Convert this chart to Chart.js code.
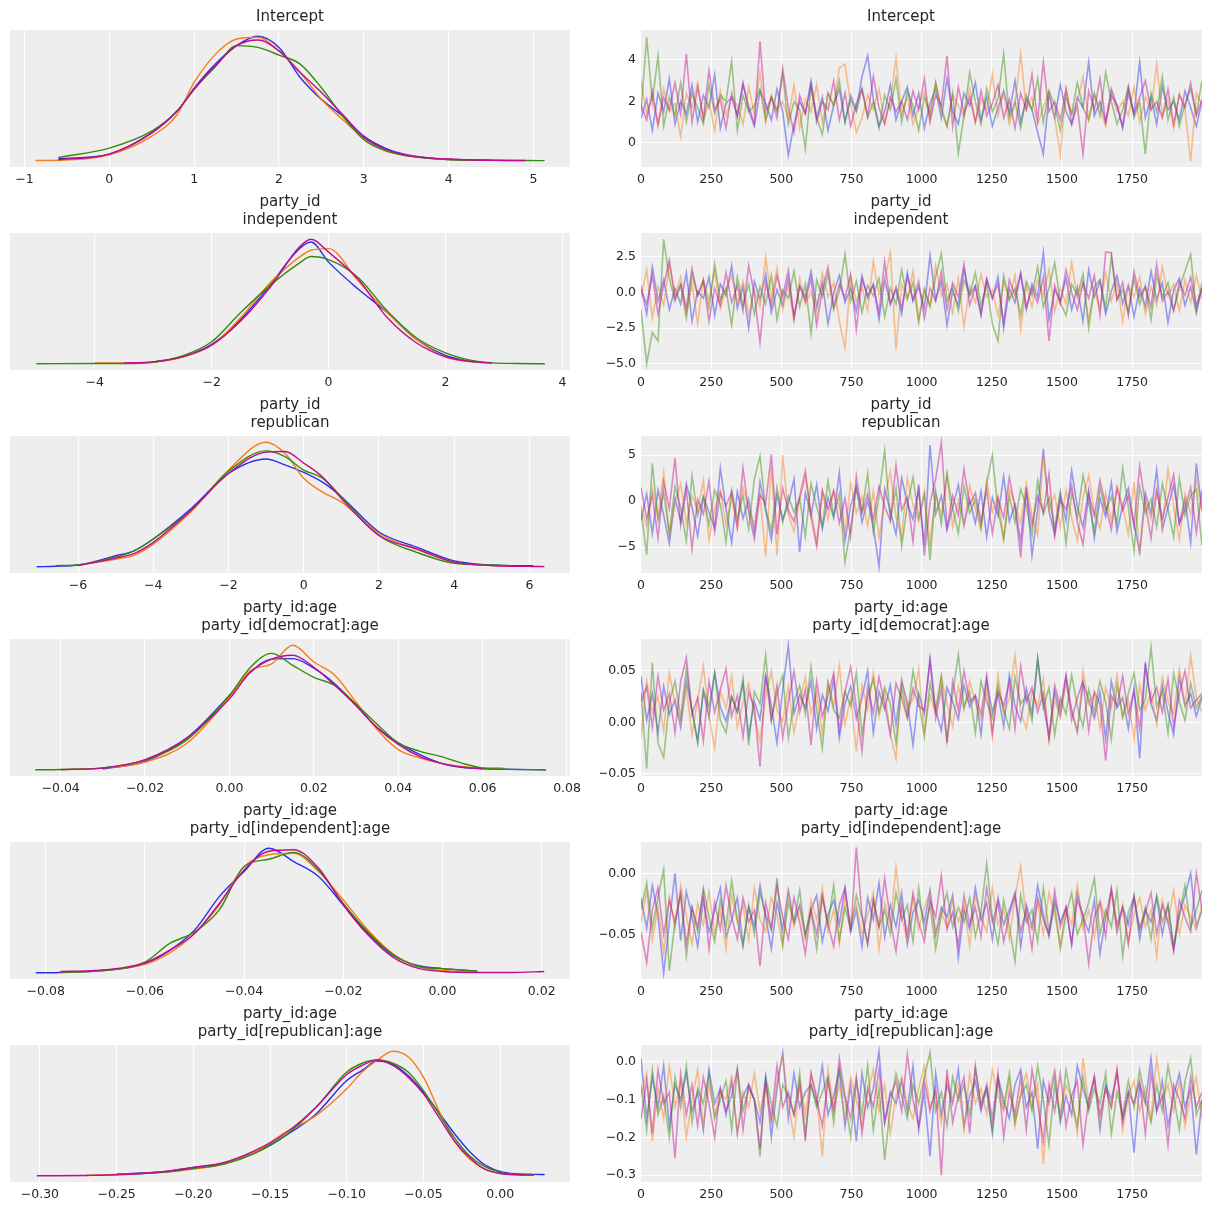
<!DOCTYPE html>
<html lang="en">
<head>
<meta charset="UTF-8">
<script src="https://cdn.jsdelivr.net/npm/chart.js"></script>
<title>Trace plot</title>
<style>
  body { margin: 0; background: #fff; }
  #fig { position: relative; width: 1211px; height: 1211px; }
  .panel { position: absolute; }
</style>
</head>
<body>
<div id="fig"></div>
<script>
// chain colours (arviz-darkgrid cycle)
const chainColors = ['#2a2eec', '#fa7c17', '#328c06', '#c10c90']

const titles = [
  ['Intercept'],
  ['party_id', 'independent'],
  ['party_id', 'republican'],
  ['party_id:age', 'party_id[democrat]:age'],
  ['party_id:age', 'party_id[independent]:age'],
  ['party_id:age', 'party_id[republican]:age']
]

// ---- KDE (left column): x grid per panel, density per chain [blue, orange, green, magenta]
const kdeX1 = [-0.87, -0.6, 0, 0.5, 0.8, 1.0, 1.25, 1.5, 1.75, 2.0, 2.25, 2.5, 2.75, 3.0, 3.25, 3.5, 4.0, 4.5, 4.9, 5.13]
const kdeY1 = [
  [null, .008, .027, .112, .200, .292, .389, .463, .501, .456, .335, .247, .180, .099, .051, .024, .005, .002, null, null],
  [.001, .002, .024, .099, .186, .315, .428, .490, .497, .442, .355, .247, .166, .092, .045, .022, .005, .002, null, null],
  [null, .013, .051, .119, .200, .288, .378, .463, .456, .425, .389, .294, .180, .085, .041, .020, .005, .002, .001, .0005],
  [null, .004, .027, .112, .200, .288, .382, .463, .486, .442, .355, .275, .186, .095, .047, .022, .007, .002, .001, null]
]
const kdeX2 = [-5.0, -4.0, -3.5, -3.0, -2.5, -2.0, -1.5, -1.0, -0.5, -0.3, 0, 0.5, 1.0, 1.5, 2.0, 2.5, 2.8, 3.2, 3.7]
const kdeY2 = [
  [null, null, null, .006, .022, .062, .142, .251, .367, .388, .324, .239, .164, .078, .027, .006, .003, null, null],
  [null, .003, .003, .005, .021, .059, .148, .258, .340, .362, .367, .265, .164, .078, .021, .006, .003, null, null],
  [.000, .001, .001, .005, .025, .070, .164, .250, .321, .342, .332, .276, .169, .083, .035, .009, .003, .001, .000],
  [null, null, .003, .006, .022, .059, .137, .244, .372, .397, .356, .271, .148, .067, .022, .006, .003, null, null]
]
const kdeX3 = [-7.1, -6.6, -6, -5, -4.5, -4, -3, -2, -1, -0.5, 0, 0.5, 1, 2, 3, 4, 5, 5.5, 6.1, 6.4]
const kdeY3 = [
  [0, .001, .003, .019, .028, .048, .100, .161, .186, .176, .163, .146, .121, .060, .034, .010, .003, .002, .002, null],
  [null, null, .003, .013, .020, .039, .095, .167, .215, .196, .153, .129, .112, .057, .030, .008, .002, .001, null, null],
  [null, .002, .003, .017, .028, .048, .097, .165, .200, .190, .167, .153, .121, .054, .025, .006, .003, .002, null, null],
  [null, null, .002, .015, .023, .042, .097, .161, .198, .199, .179, .155, .118, .054, .031, .008, .002, .001, .0005, .0003]
]
const kdeX4 = [-0.046, -0.04, -0.03, -0.02, -0.01, 0, 0.005, 0.01, 0.015, 0.02, 0.025, 0.03, 0.035, 0.04, 0.045, 0.05, 0.055, 0.06, 0.065, 0.075]
const kdeY4 = [
  [null, null, .14, 1.76, 6.68, 15.5, 20.4, 23.1, 23.2, 21.2, 17.9, 13.4, 8.8, 5.6, 3.2, 1.4, .5, .2, .1, 0],
  [null, .07, .35, 1.6, 5.6, 15.1, 20.7, 22.1, 26.0, 22.5, 19.7, 14.1, 8.4, 4.2, 2.5, 1.4, .7, .4, .35, null],
  [0, .07, .4, 2.0, 6.3, 15.5, 21.4, 24.3, 21.8, 19.3, 17.6, 13.7, 9.5, 5.6, 3.9, 2.8, 1.4, .35, .14, 0],
  [null, .03, .35, 2.1, 6.7, 14.8, 20.4, 23.1, 23.9, 21.4, 17.6, 13.4, 8.8, 5.3, 2.8, 1.4, .6, .2, null, null]
]
const kdeX5 = [-0.082, -0.077, -0.07, -0.06, -0.055, -0.05, -0.045, -0.04, -0.035, -0.03, -0.025, -0.02, -0.015, -0.01, -0.005, 0, 0.007, 0.014, 0.0205]
const kdeY5 = [
  [0, .09, .44, 2.4, 5.9, 11.2, 20.0, 26.6, 32.7, 29.2, 25.3, 17.8, 10.3, 4.6, 1.9, 1.1, .44, null, null],
  [null, .18, .44, 2.2, 5.2, 10.3, 17.8, 27.9, 31.0, 31.4, 26.6, 19.1, 11.2, 5.0, 1.7, .6, .26, null, null],
  [null, .18, .44, 2.8, 7.7, 10.7, 16.5, 27.9, 29.8, 31.6, 27.0, 18.2, 10.7, 4.8, 1.7, 1.1, .44, null, null],
  [null, .35, .6, 2.6, 5.9, 10.3, 18.2, 27.0, 31.9, 32.3, 27.5, 17.8, 9.9, 4.1, 1.2, .35, .09, .09, .35]
]
const kdeX6 = [-0.302, -0.27, -0.25, -0.22, -0.2, -0.18, -0.16, -0.14, -0.12, -0.1, -0.09, -0.08, -0.07, -0.06, -0.05, -0.04, -0.03, -0.02, -0.01, 0, 0.01, 0.022, 0.029]
const kdeY6 = [
  [null, null, .15, .37, .77, 1.13, 2.14, 3.67, 5.66, 8.72, 9.64, 10.5, 10.2, 9.18, 7.65, 5.81, 3.89, 2.23, 1.01, .40, .18, .13, .12],
  [null, .06, .12, .31, .61, 1.07, 2.14, 3.98, 5.51, 7.96, 9.49, 10.6, 11.4, 10.9, 9.03, 5.97, 3.21, 1.53, .61, .24, .12, .09, null],
  [null, null, .12, .31, .67, 1.07, 2.05, 3.67, 6.27, 9.49, 10.3, 10.6, 10.3, 9.49, 7.80, 5.66, 3.52, 1.84, .83, .31, .15, .09, null],
  [0, .03, .09, .37, .77, 1.22, 2.30, 3.89, 6.27, 9.27, 10.1, 10.6, 10.1, 9.03, 7.50, 5.36, 3.21, 1.68, .61, .21, .09, .06, null]
]

// ---- traces (right column): draws read every ~20 iterations over 0..1999, per chain
const trace1 = [
  [1.2, 2.1, 0.6, 2.4, 1.5, 3.1, 0.9, 2.0, 1.4, 2.8, 1.0, 2.3, 1.7, 3.3, 0.7, 1.9, 2.2, 1.3, 2.9, 1.6,
   0.8, 2.5, 1.9, 1.1, 2.6, 1.5, -0.6, 0.9, 2.0, 1.4, 3.0, 1.2, 2.2, 0.6, 1.8, 2.6, 1.0, 2.3, 1.6, 3.2,
   4.2, 2.1, 0.8, 1.5, 2.8, 1.1, 2.0, 2.7, 1.3, 2.4, 0.7, 1.9, 2.6, 1.2, 3.1, 1.5, 0.9, 2.4, 1.8, 2.9,
   1.1, 2.2, 0.8, 1.7, 2.5, 1.4, 3.0, 1.0, 2.1, 1.6, 0.5, -0.55, 2.3, 1.2, 2.8, 1.5, 0.9, 2.2, 1.7, 3.9,
   1.3, 2.0, 1.0, 2.6, 1.8, 0.7, 2.4, 1.4, 3.9, 1.2, 2.2, 0.9, 2.7, 1.6, 2.0, 1.1, 2.5, 1.7, 0.8, 2.0],
  [3.0, 1.4, 2.2, 0.8, 2.6, 1.5, 1.9, 0.3, 2.4, 1.7, 2.9, 1.1, 2.0, 0.6, 2.5, 1.3, 2.2, 1.8, 0.9, 2.7,
   1.4, 3.4, 1.0, 2.3, 1.6, 2.0, 1.2, 2.8, 0.7, 2.1, 1.5, 2.8, 1.0, 2.4, 1.8, 3.6, 3.8, 1.9, 0.5, 1.2,
   2.3, 1.6, 2.6, 1.0, 2.0, 4.1, 1.4, 2.2, 0.9, 1.7, 2.5, 1.1, 2.9, 1.5, 0.8, 2.3, 1.8, 1.2, 2.6, 1.0,
   2.1, 1.6, 3.3, 1.3, 2.4, 0.9, 1.9, 4.3, 1.6, 2.2, 0.9, 1.7, 2.5, 1.2, -0.6, 2.6, 1.4, 2.0, 3.2, 1.1,
   2.3, 1.7, 0.8, 2.5, 1.5, 2.0, 1.3, 2.7, 1.0, 2.2, 1.6, 3.8, 1.3, 2.1, 0.7, 2.4, 1.6, -0.9, 2.4, 1.8],
  [1.5, 5.1, 2.0, 4.2, 0.8, 2.2, 1.3, 2.9, 1.0, 2.4, 1.7, 0.9, 2.8, 1.4, 2.3, 2.0, 3.95, 0.6, 2.3, 1.5,
   1.8, 2.6, 1.1, 2.2, 1.5, 3.3, 0.9, 2.0, 1.6, -0.3, 2.7, 1.2, 0.4, 2.4, 1.8, 3.0, 1.0, 2.1, 1.5, 2.6,
   1.2, 2.0, 0.7, 2.3, 1.6, 3.1, 1.0, 2.5, 1.8, 0.6, 2.2, 1.4, 2.9, 1.7, 0.8, 2.4, -0.5, 1.3, 3.4, 2.0,
   0.9, 2.6, 1.5, 2.1, 4.3, 1.2, 2.0, 0.7, 2.3, 1.6, 3.1, 1.0, 2.5, 1.8, 0.6, 2.2, 1.4, 2.9, 1.7, 1.1,
   2.4, 1.3, 3.4, 2.0, 0.9, 1.6, 2.7, 1.2, 2.0, -0.55, 2.4, 1.5, 3.2, 1.1, 2.2, 0.8, 1.9, 2.6, 1.4, 3.0],
  [1.8, 1.1, 2.5, 0.9, 2.2, 1.6, 2.9, 1.4, 4.3, 1.0, 2.7, 1.2, 3.5, 1.6, 2.1, 0.7, 2.4, 1.3, 2.8, 1.8,
   0.9, 4.9, 1.5, 2.2, 1.2, 3.6, 1.7, 0.5, 2.3, 1.4, 2.8, 1.0, 2.0, 1.6, 3.0, 1.1, 2.4, 0.8, 1.9, 2.6,
   1.3, 3.2, 1.7, 0.9, 2.2, 1.5, 2.0, 1.1, 2.5, 1.6, 3.1, 1.0, 2.3, 1.8, 4.2, 0.8, 2.7, 1.4, 2.2, 1.0,
   2.5, 1.3, 1.9, 2.8, 1.2, 2.1, 0.7, 2.4, 1.6, 3.3, 1.1, 3.9, 1.5, 2.0, 1.1, 2.6, 0.9, 1.8, -0.55, 2.5,
   1.6, 3.1, 1.0, 2.3, 1.8, 0.8, 2.7, 1.4, 2.2, 3.0, 1.6, 2.0, 1.2, 2.6, 0.9, 2.3, 1.7, 2.9, 1.3, 2.1]
]
const trace2 = [
  [0.5, -1.5, 1.8, -0.6, 0.9, -1.2, 0.3, -0.8, 1.4, -2.0, 0.1, -0.4, 1.1, -1.6, 0.6, -0.2, 1.9, -1.1, 0.4, -2.5,
   0.8, -0.5, 1.3, -1.4, 0.2, -0.9, 1.0, -1.8, 0.5, -0.3, 1.5, -1.0, 0.7, -2.2, 0.0, 1.2, -0.7, 0.3, -1.3, 1.2,
   -0.4, 0.6, -1.9, 0.9, -0.8, 0.2, -1.5, 1.4, -0.6, 0.4, -1.1, 2.6, -0.5, 0.8, -2.3, 0.1, -0.9, 1.6, -0.2, 0.5,
   -1.6, 0.9, -0.4, 1.1, -2.5, 0.3, -0.7, 1.3, -1.2, 0.6, -0.3, 2.85, -1.9, 0.2, -0.6, 1.0, -1.2, 0.4, -2.0, 1.6,
   -0.3, 0.8, -1.5, 0.1, 1.2, -0.8, 0.5, -1.7, 0.3, -1.0, 1.5, -0.5, 0.7, -2.1, 0.2, 1.0, -0.9, 0.4, -1.4, 0.3],
  [-0.3, 1.6, -1.8, 0.4, -0.9, 2.0, -0.2, 1.1, -1.4, 0.6, -2.2, 0.9, -0.5, 1.5, -1.1, 0.3, 1.2, -0.7, 0.8, -1.6,
   0.2, -1.0, 2.5, -0.4, 1.7, -1.2, 0.5, -2.0, 1.0, -0.8, 0.1, -1.5, 1.4, -0.3, 0.7, -2.0, -3.9, 1.1, -0.6, 0.4,
   -1.3, 2.2, -0.1, 0.9, 2.8, -4.0, 0.6, -0.5, 1.5, -1.8, 0.3, -0.9, 1.9, -0.2, 0.6, -1.4, 1.0, -2.4, 0.4, -0.7,
   1.3, -0.3, 0.2, -1.6, 0.8, -0.5, 1.2, -2.6, 0.5, -1.0, 0.9, -0.2, 1.6, -1.3, 0.3, -0.8, 2.1, -0.4, 0.7, -1.9,
   0.2, -1.1, 1.4, -0.6, 0.8, -2.0, 0.5, -0.3, 1.1, -1.5, 0.4, -0.9, 1.8, -0.2, 0.6, -1.3, 0.9, -0.7, 1.2, -0.4],
  [-1.2, -5.0, -2.8, -3.4, 3.75, 1.0, -0.6, 0.5, -1.8, 1.3, -0.2, 0.8, -1.1, 2.0, -0.5, 0.3, -2.3, 1.1, -0.9, 0.6,
   -1.5, 0.4, -0.8, 1.2, -1.9, 0.2, -0.4, 1.5, -1.0, 0.6, -2.9, 0.9, -0.3, 1.3, -1.2, 0.1, 2.7, -0.6, 0.8, -1.4,
   0.5, -0.2, 1.0, -1.7, 0.3, -0.8, 1.6, -0.4, 0.7, -2.1, 0.2, -1.0, 1.1, 2.75, -0.6, 0.4, -1.3, 0.9, -0.1, 1.4,
   -0.9, 0.6, -2.2, -3.4, 1.2, -0.5, 0.3, -1.6, 0.8, -0.2, 1.8, -1.0, 0.3, 2.1, -0.7, -1.6, 0.6, -0.2, 1.3, -2.5,
   0.4, 0.9, -1.1, 2.5, -0.5, 0.2, -1.4, 1.0, -0.8, 0.5, -1.9, 1.2, -0.3, 0.7, -1.2, 0.3, 1.5, 2.7, -1.3, 0.7],
  [0.2, -0.8, 1.2, -1.5, 0.5, 2.3, -0.4, 0.6, -1.1, 1.7, -0.2, 0.9, -2.0, 0.3, -0.9, 1.4, -0.7, 0.5, -1.3, 1.9,
   -0.1, -3.5, 0.7, -0.9, 1.2, -0.3, 1.6, -1.7, 0.4, -0.6, 1.0, -2.3, 0.2, 1.8, -1.0, 0.6, -0.4, 1.3, -2.6, 0.9,
   -0.2, 0.5, -1.4, 2.2, -0.8, 0.4, -1.1, 1.1, -0.5, 0.8, -1.8, 0.3, -0.6, 1.5, -1.2, 0.7, -0.3, 2.0, -0.9, 0.4,
   -1.5, 1.0, -0.4, 0.6, -2.1, 0.9, -0.2, 1.4, -1.0, 0.3, -0.7, 1.1, -3.4, 0.5, -0.8, 1.6, 0.0, -1.2, 0.7, -0.4,
   1.2, -1.6, 2.85, 2.8, -0.5, 0.7, -1.6, 1.5, -0.3, 0.4, -1.0, 2.0, -0.6, 0.1, -1.3, 0.8, -0.2, 1.1, -0.9, 0.3]
]
const trace3 = [
  [-2.1, 0.8, -3.5, 1.2, -1.5, -4.6, 0.3, -2.2, 1.9, -0.6, -3.8, 0.5, -1.2, -2.9, 3.6, -0.8, -4.5, 1.0, -1.9, 0.2,
   -3.4, 2.1, -1.0, -4.2, 0.7, -2.0, -0.3, 2.4, -5.5, 0.9, -1.5, 1.8, -3.0, 0.4, -1.8, 3.1, -4.3, -0.5, 1.6, -2.3,
   0.1, -2.8, -7.1, 1.3, -1.1, -3.6, 2.5, -0.2, -2.0, 1.3, -4.8, 6.1, -1.4, 0.6, -3.1, -0.7, 1.8, -2.6, 0.2, -2.4,
   1.1, -3.9, 0.4, -1.6, 2.7, -2.2, -0.4, -4.4, 1.5, -5.9, -0.9, 5.7, -1.1, -3.6, 0.8, -2.1, 3.3, -0.6, -2.8, 1.2,
   -4.0, 0.3, -1.7, 2.0, -3.3, -0.5, 1.4, -2.5, -5.5, 0.9, -1.3, 3.4, -3.1, -0.7, 1.8, -2.4, 0.2, -4.5, 4.1, -1.0],
  [-0.5, -2.8, 1.4, -1.6, 3.1, -3.7, -0.2, 1.9, -2.4, 0.6, -1.1, 2.3, -4.2, -0.8, 1.2, -2.6, 0.4, -3.0, 1.5, -0.9,
   -2.5, 0.7, -6.0, 3.8, -5.9, 5.0, -1.4, -3.3, 0.2, 2.6, -1.0, -4.5, 0.9, -2.0, 1.2, -0.6, -3.5, 2.0, -1.3, 0.5,
   -2.7, 1.1, -4.0, 0.3, 3.2, -1.7, -3.9, 2.5, -0.4, -2.2, 1.0, -4.6, 0.8, -1.5, 2.9, -2.8, 0.1, -2.6, 1.7, -0.8,
   -3.2, 2.2, -1.2, 0.6, -4.1, 1.4, -0.3, -2.4, 1.9, -1.6, -3.7, 5.0, -0.9, 0.7, -2.9, 1.2, -1.8, -4.3, 0.4, 2.8,
   -1.1, -3.0, 0.9, -2.2, 1.6, -0.5, -3.6, 2.1, -5.8, 0.3, -1.9, 1.3, -2.7, 3.5, -0.6, -4.2, 0.8, -1.4, 2.4, -1.2],
  [-1.0, -5.8, 4.1, -2.1, 0.9, -3.5, 1.6, -0.7, -4.3, 2.8, -1.5, 0.4, -2.6, 1.2, -0.3, -4.4, 1.2, -1.9, 0.6, -3.0,
   2.4, 4.9, -0.9, -3.2, 1.5, -2.3, 0.5, -1.2, 0.3, -3.8, 1.9, -0.6, -2.7, 2.2, -1.6, 0.8, -6.6, -2.9, 1.4, -1.1,
   3.0, -3.4, 0.5, 5.5, -2.0, 1.4, -4.9, -0.4, 2.6, -1.8, 0.7, -6.4, 1.1, -2.5, 3.0, -0.8, -3.5, 1.6, -1.3, 0.2,
   -2.8, 1.9, 5.0, -1.0, -4.1, 0.6, -2.3, 1.3, -0.5, -3.7, 2.2, -1.4, 0.4, -2.9, 1.0, -4.6, 0.9, -1.7, 2.8, -0.2,
   -3.3, 1.4, -1.1, 0.5, -2.4, 3.6, -0.7, -5.4, 1.6, -1.3, 0.2, -2.8, 1.9, -0.9, -3.9, 2.5, -1.5, 0.6, 1.3, -4.8],
  [1.5, -1.9, 0.6, -4.0, 2.1, -0.8, 4.7, -2.6, 1.3, -5.2, 0.2, -1.4, 2.2, -3.3, 0.9, -0.5, 1.0, -2.8, 3.6, -1.2,
   -4.1, 0.7, -0.3, 5.1, -3.6, 1.4, -1.0, -2.2, 0.5, 3.3, -1.7, -4.9, 1.2, -0.9, 1.1, -2.4, 0.3, -3.9, 2.7, -1.3,
   0.8, -2.0, 1.6, -0.6, -2.1, 3.9, -1.0, 0.4, -4.4, 1.8, -5.9, -0.2, 2.4, 6.4, -2.9, 0.6, -1.5, 3.5, -0.4, 0.9,
   -2.2, 1.2, -3.5, 0.3, -1.8, 2.6, -0.7, -6.1, 1.0, -2.6, 0.5, -1.2, 3.0, -3.8, 0.1, -0.9, 1.7, -2.3, -4.7, 0.8,
   -1.6, 2.3, -0.5, -3.1, 1.4, -1.0, 0.6, -2.7, 3.8, -0.3, -4.0, 1.1, -1.9, 0.4, 2.9, -2.5, -0.8, 1.5, -3.4, 1.2]
]
const trace4 = [
  [0.045, 0.002, 0.028, -0.010, 0.035, 0.008, 0.022, -0.005, 0.040, 0.012, -0.018, 0.030, 0.005, 0.048, 0.015, 0.001, 0.025, 0.010, 0.038, -0.012,
   0.020, 0.003, 0.045, 0.016, -0.020, 0.032, 0.075, 0.009, 0.027, 0.014, 0.040, -0.006, 0.027, 0.011, 0.042, -0.015, 0.018, 0.035, 0.004, 0.024,
   0.050, -0.010, 0.030, 0.013, 0.036, -0.002, 0.040, 0.019, -0.022, 0.028, 0.008, 0.062, 0.012, -0.008, 0.034, 0.020, 0.003, 0.036, 0.015, 0.026,
   -0.012, 0.042, 0.010, 0.028, -0.004, 0.046, 0.016, 0.001, 0.033, 0.008, 0.062, 0.018, -0.014, 0.030, 0.006, 0.044, 0.012, -0.009, 0.038, 0.022,
   0.004, 0.029, -0.016, 0.040, 0.014, 0.024, -0.006, 0.034, -0.035, 0.058, 0.018, 0.002, 0.036, 0.010, -0.012, 0.044, 0.016, 0.028, 0.006, 0.024],
  [-0.015, 0.040, 0.010, 0.025, -0.008, 0.048, 0.018, 0.002, 0.033, -0.012, 0.022, 0.055, 0.006, -0.025, 0.030, 0.014, 0.045, -0.005, 0.020, 0.038,
   0.008, -0.018, 0.026, 0.050, 0.012, 0.001, 0.035, -0.010, 0.020, 0.044, 0.009, 0.028, -0.010, 0.040, 0.016, 0.055, -0.002, 0.024, -0.028, 0.036,
   0.012, 0.048, 0.006, 0.030, -0.012, -0.035, 0.042, 0.015, 0.022, 0.052, -0.008, 0.026, 0.010, 0.044, 0.018, -0.004, 0.035, 0.012, 0.040, 0.020,
   0.002, 0.032, -0.014, 0.046, 0.008, 0.024, 0.065, 0.010, -0.006, 0.030, 0.016, 0.042, -0.018, 0.022, 0.006, 0.038, 0.012, -0.010, 0.050, 0.018,
   0.028, -0.006, 0.034, 0.014, 0.046, 0.004, 0.022, -0.016, 0.036, 0.012, 0.030, -0.002, 0.044, 0.020, 0.008, 0.052, 0.016, 0.065, 0.024, 0.010],
  [0.030, -0.045, 0.058, -0.020, -0.034, 0.020, 0.040, 0.005, 0.052, 0.012, -0.020, 0.032, 0.015, 0.048, 0.002, -0.010, 0.025, 0.010, 0.043, -0.022,
   0.030, 0.018, 0.065, 0.002, 0.028, 0.046, -0.015, 0.020, 0.036, 0.008, 0.054, 0.013, -0.025, 0.038, 0.012, 0.004, 0.030, 0.016, 0.048, -0.012,
   0.025, 0.042, 0.010, 0.034, 0.018, -0.020, 0.034, 0.006, 0.050, 0.022, -0.014, 0.038, 0.012, 0.045, -0.018, 0.028, 0.066, 0.015, 0.030, -0.010,
   0.040, 0.020, 0.004, 0.036, 0.012, -0.006, 0.044, 0.018, 0.026, 0.002, 0.062, 0.014, 0.034, -0.012, 0.024, 0.008, 0.046, 0.016, -0.004, 0.032,
   0.010, 0.040, 0.020, -0.016, 0.036, 0.006, 0.028, 0.048, 0.012, 0.022, 0.073, 0.015, 0.030, -0.010, 0.048, 0.020, 0.002, 0.038, 0.014, 0.026],
  [0.020, 0.035, -0.005, 0.045, 0.012, 0.028, -0.010, 0.040, 0.063, 0.008, 0.024, -0.018, 0.040, 0.010, 0.032, 0.052, 0.006, 0.026, -0.014, 0.030,
   0.014, -0.043, 0.046, 0.002, 0.036, -0.015, 0.020, 0.050, 0.010, 0.032, -0.022, 0.040, 0.006, 0.026, 0.048, -0.008, 0.030, 0.054, 0.015, -0.028,
   0.035, 0.009, 0.044, 0.018, -0.012, 0.038, 0.024, 0.004, 0.033, 0.016, 0.012, 0.060, 0.004, 0.033, -0.020, 0.040, 0.012, 0.050, 0.020, 0.026,
   0.008, 0.045, -0.010, 0.030, 0.016, 0.040, -0.006, 0.055, 0.020, 0.034, 0.010, 0.028, -0.016, 0.036, 0.014, 0.046, 0.002, 0.024, 0.040, -0.008,
   0.030, 0.018, -0.037, 0.026, 0.016, 0.045, 0.008, 0.030, -0.006, 0.055, 0.020, 0.034, 0.010, 0.042, -0.004, 0.028, 0.050, 0.014, 0.022, 0.028]
]
const trace5 = [
  [-0.020, -0.045, -0.010, -0.035, -0.082, -0.040, 0.000, -0.055, -0.015, -0.035, -0.060, -0.022, -0.048, -0.030, -0.012, -0.052, -0.038, -0.020, -0.058, -0.028,
   -0.044, -0.010, -0.036, -0.062, -0.024, -0.046, -0.014, -0.040, -0.026, -0.050, -0.030, -0.018, -0.056, -0.034, -0.022, -0.042, -0.012, -0.048, -0.030, -0.060,
   -0.020, -0.038, -0.008, -0.052, -0.026, -0.044, -0.016, -0.058, -0.032, -0.022, -0.040, -0.014, -0.050, -0.028, -0.036, -0.018, -0.069, -0.030, -0.046, -0.012,
   -0.038, -0.024, -0.054, -0.020, -0.042, -0.030, -0.016, -0.060, -0.026, -0.044, -0.010, -0.034, -0.052, -0.022, -0.040, -0.028, -0.058, -0.016, -0.036, -0.048,
   -0.022, -0.066, -0.036, -0.014, -0.048, -0.028, -0.042, -0.018, -0.054, -0.030, -0.040, -0.020, -0.050, -0.026, -0.062, -0.034, -0.018, 0.000, -0.044, -0.030],
  [-0.040, -0.015, -0.055, -0.028, -0.065, -0.020, -0.045, -0.010, -0.035, -0.058, -0.025, -0.042, -0.015, -0.050, -0.030, -0.062, -0.018, -0.040, -0.026, -0.055,
   -0.012, -0.038, -0.048, -0.020, -0.034, -0.060, -0.016, -0.044, -0.028, -0.054, -0.022, -0.038, -0.012, -0.048, -0.030, -0.058, -0.020, -0.040, -0.026, -0.050,
   -0.034, -0.016, -0.062, -0.024, -0.042, 0.005, -0.036, -0.056, -0.020, -0.046, -0.028, -0.015, -0.052, -0.032, -0.044, -0.022, -0.040, -0.026, -0.060, -0.018,
   -0.036, -0.048, -0.012, -0.042, -0.030, -0.054, -0.020, 0.006, -0.038, -0.046, -0.024, -0.050, -0.016, -0.034, -0.058, -0.028, -0.042, -0.010, -0.046, -0.030,
   -0.052, -0.022, -0.038, -0.014, -0.048, -0.026, -0.056, -0.034, -0.020, -0.044, -0.030, -0.068, -0.022, -0.040, -0.014, -0.050, -0.026, -0.036, -0.046, -0.026],
  [-0.030, -0.008, -0.045, -0.020, 0.003, -0.080, -0.040, -0.018, -0.068, -0.028, -0.048, -0.012, -0.036, -0.056, -0.022, -0.044, -0.006, -0.038, -0.060, -0.026,
   -0.050, -0.016, -0.034, -0.046, -0.004, -0.058, -0.024, -0.040, -0.014, -0.052, -0.030, -0.062, -0.020, -0.042, -0.010, -0.054, -0.028, -0.046, -0.018, -0.036,
   -0.058, -0.022, -0.044, -0.030, -0.050, -0.016, -0.038, -0.026, -0.056, -0.012, -0.048, -0.026, -0.062, -0.034, -0.016, -0.044, -0.028, -0.040, -0.020, -0.052,
   -0.032, 0.008, -0.036, -0.058, -0.022, -0.044, -0.072, -0.018, -0.040, -0.030, -0.056, -0.012, -0.048, -0.026, -0.062, -0.034, -0.016, -0.050, -0.038, -0.024,
   -0.004, -0.050, -0.030, -0.044, -0.014, -0.068, -0.032, -0.020, -0.046, -0.028, -0.054, -0.018, -0.040, -0.026, -0.060, -0.034, -0.010, -0.044, -0.030, -0.014],
  [-0.048, -0.073, -0.030, -0.012, -0.050, -0.022, -0.040, -0.016, -0.058, -0.028, -0.044, -0.016, -0.062, -0.024, -0.046, -0.010, -0.036, -0.054, -0.020, -0.040,
   -0.030, -0.076, -0.024, -0.046, -0.010, -0.036, -0.054, -0.020, -0.040, -0.066, -0.030, -0.050, -0.018, -0.042, -0.060, -0.026, -0.012, -0.048, 0.021, -0.034,
   -0.058, -0.022, -0.044, -0.004, -0.038, -0.064, -0.026, -0.050, -0.016, -0.040, -0.056, -0.022, -0.036, -0.002, -0.046, -0.032, -0.060, -0.018, -0.042, -0.028,
   -0.052, -0.012, -0.040, -0.024, -0.056, -0.034, -0.018, -0.048, -0.030, -0.062, -0.020, -0.038, -0.050, -0.014, -0.044, -0.028, -0.058, -0.022, -0.034, -0.074,
   -0.036, -0.024, -0.052, -0.012, -0.042, -0.028, -0.058, -0.020, -0.046, -0.032, -0.016, -0.050, -0.026, -0.040, -0.064, -0.022, -0.036, -0.048, 0.000, -0.030]
]
const trace6 = [
  [0.010, -0.150, -0.040, -0.120, -0.010, -0.170, -0.060, -0.100, -0.030, -0.130, -0.080, -0.180, -0.020, -0.110, -0.070, -0.140, -0.050, -0.190, -0.090, -0.060,
   -0.100, -0.160, -0.040, -0.200, -0.070, 0.025, -0.150, -0.030, -0.120, -0.080, -0.060, -0.110, -0.010, -0.140, -0.090, -0.020, -0.170, -0.060, -0.210, -0.030,
   -0.120, -0.070, 0.028, -0.160, -0.080, -0.110, -0.050, -0.130, -0.010, -0.180, -0.080, -0.250, -0.030, -0.140, -0.060, -0.110, -0.020, -0.170, -0.090, -0.050,
   -0.130, -0.070, -0.190, -0.040, -0.100, -0.150, -0.060, -0.020, -0.120, -0.080, -0.230, -0.050, -0.110, -0.030, -0.160, -0.090, -0.140, -0.010, -0.070, -0.120,
   -0.040, -0.180, -0.060, -0.100, -0.030, -0.150, -0.080, -0.240, -0.060, -0.110, 0.010, -0.130, -0.050, -0.170, -0.090, -0.030, -0.120, -0.070, -0.245, -0.100],
  [-0.090, -0.030, -0.210, -0.070, -0.150, -0.010, -0.120, -0.050, -0.200, -0.100, -0.020, -0.170, -0.060, -0.140, -0.080, -0.100, -0.040, -0.190, -0.080, -0.120,
   -0.030, -0.130, -0.070, -0.160, -0.050, 0.015, -0.110, -0.200, -0.050, -0.140, -0.030, -0.090, -0.250, -0.020, -0.120, -0.060, -0.150, -0.040, -0.100, -0.170,
   -0.080, -0.020, -0.130, -0.060, -0.190, -0.090, -0.040, -0.110, -0.150, -0.070, -0.010, -0.120, -0.080, -0.160, -0.040, -0.100, -0.060, -0.180, -0.030, -0.110,
   -0.070, -0.140, -0.020, -0.090, -0.130, -0.050, -0.170, -0.080, -0.030, -0.120, -0.060, -0.270, -0.080, -0.020, -0.140, -0.060, -0.100, -0.190, 0.010, -0.110,
   -0.040, -0.160, -0.070, -0.120, -0.020, -0.180, -0.090, -0.050, -0.130, -0.070, -0.150, 0.010, -0.100, -0.060, -0.130, -0.050, -0.170, -0.090, -0.040, -0.150],
  [-0.060, -0.180, -0.020, -0.140, -0.090, -0.200, -0.040, -0.120, -0.010, -0.160, -0.070, -0.110, -0.030, -0.150, -0.100, -0.050, -0.180, -0.020, -0.130, -0.070,
   -0.100, -0.250, -0.040, -0.110, -0.170, -0.060, -0.090, -0.140, -0.030, -0.190, -0.060, -0.120, -0.080, -0.040, -0.160, -0.020, -0.100, -0.200, -0.050, -0.140,
   -0.010, -0.180, -0.070, -0.260, -0.120, -0.030, -0.090, -0.150, -0.060, -0.110, -0.040, 0.025, -0.130, -0.080, -0.170, -0.040, -0.100, -0.060, -0.140, -0.020,
   -0.110, -0.070, -0.180, -0.050, -0.120, -0.030, -0.160, -0.090, -0.060, -0.130, -0.010, -0.100, -0.220, -0.060, -0.150, -0.020, -0.100, -0.170, -0.040, -0.130,
   -0.070, -0.110, -0.030, -0.190, -0.080, -0.140, -0.050, -0.120, -0.020, -0.100, -0.160, -0.060, -0.130, -0.010, -0.090, -0.180, -0.050, 0.010, -0.140, -0.100],
  [-0.150, -0.050, -0.190, -0.020, -0.110, -0.080, -0.255, -0.030, -0.140, -0.060, -0.170, -0.040, -0.110, -0.200, -0.070, -0.130, -0.090, -0.020, -0.180, -0.060,
   -0.100, -0.230, -0.050, -0.150, -0.010, -0.120, -0.080, -0.140, -0.060, -0.210, -0.030, -0.100, -0.170, -0.050, -0.130, 0.010, -0.090, -0.150, -0.040, -0.190,
   -0.070, -0.120, -0.020, -0.160, -0.090, -0.050, -0.130, 0.020, -0.100, -0.170, -0.050, -0.130, -0.070, -0.300, -0.020, -0.160, -0.090, -0.040, -0.190, -0.010,
   -0.120, -0.060, -0.150, -0.030, -0.200, -0.080, -0.140, -0.040, -0.180, -0.020, -0.110, -0.210, -0.060, -0.130, -0.030, -0.170, -0.090, -0.050, -0.220, -0.100,
   -0.040, -0.140, -0.070, -0.120, -0.020, -0.160, -0.080, -0.110, -0.050, -0.190, -0.030, -0.130, -0.090, -0.220, -0.060, -0.100, -0.150, -0.040, -0.120, -0.080]
]

// tick values
const kdeTicks = [
  [-1, 0, 1, 2, 3, 4, 5],
  [-4, -2, 0, 2, 4],
  [-6, -4, -2, 0, 2, 4, 6],
  [-0.04, -0.02, 0, 0.02, 0.04, 0.06, 0.08],
  [-0.08, -0.06, -0.04, -0.02, 0, 0.02],
  [-0.30, -0.25, -0.20, -0.15, -0.10, -0.05, 0]
]
const kdeDecimals = [0, 0, 0, 2, 2, 2]
const traceYTicks = [
  [0, 2, 4],
  [-5, -2.5, 0, 2.5],
  [-5, 0, 5],
  [-0.05, 0, 0.05],
  [-0.05, 0],
  [-0.3, -0.2, -0.1, 0]
]
const traceDecimals = [0, 1, 0, 2, 2, 1]
const drawTicks = [0, 250, 500, 750, 1000, 1250, 1500, 1750]

// axis limits
const kdeXRange = [[-1.17, 5.43], [-5.45, 4.13], [-7.81, 7.08], [-0.052, 0.0807], [-0.0872, 0.0257], [-0.3195, 0.0455]]
const traceYRange = [[-1.17, 5.45], [-5.44, 4.19], [-7.8, 7.08], [-0.052, 0.081], [-0.0866, 0.0256], [-0.318, 0.045]]

const kdeXs = [kdeX1, kdeX2, kdeX3, kdeX4, kdeX5, kdeX6]
const kdeYs = [kdeY1, kdeY2, kdeY3, kdeY4, kdeY5, kdeY6]
const traces = [trace1, trace2, trace3, trace4, trace5, trace6]

const FONT = 'DejaVu Sans'
const TXT = '#262626'
const PLOT_TOP0 = 30, ROW_STEP = 203, PLOT_H = 137, XAXIS_H = 24, LINE_H = 18

const fmt = (v, d) => v.toFixed(d).replace('-', '\u2212')

const bgPlugin = {
  id: 'bg',
  beforeDraw(chart) {
    const { ctx, chartArea: a } = chart
    ctx.save()
    ctx.fillStyle = '#eeeeee'
    ctx.fillRect(a.left, a.top, a.right - a.left, a.bottom - a.top)
    ctx.restore()
  }
}

function makePanel(left, width, top, height) {
  const fig = document.getElementById('fig')
  const div = document.createElement('div')
  div.className = 'panel'
  div.style.left = left + 'px'
  div.style.top = top + 'px'
  div.style.width = width + 'px'
  div.style.height = height + 'px'
  const canvas = document.createElement('canvas')
  div.appendChild(canvas)
  fig.appendChild(div)
  return canvas
}

function titleOpts(lines) {
  return {
    display: true, text: lines, color: TXT,
    font: { family: FONT, size: 15, weight: 'normal', lineHeight: LINE_H / 15 },
    padding: { top: 0, bottom: 4 }
  }
}

function xAxis(range, ticks, dec) {
  return {
    type: 'linear', min: range[0], max: range[1],
    afterBuildTicks: s => { s.ticks = ticks.map(v => ({ value: v })) },
    afterFit: s => { s.height = XAXIS_H },
    ticks: { autoSkip: false, maxRotation: 0, padding: 5, color: TXT, font: { family: FONT, size: 12.5 },
      callback: v => fmt(v, dec) },
    grid: { color: '#ffffff', lineWidth: 1.1, drawTicks: false },
    border: { display: false }
  }
}

titles.forEach((lines, p) => {
  const plotTop = PLOT_TOP0 + ROW_STEP * p
  const titleH = lines.length * LINE_H + 4
  const top = plotTop - titleH
  const h = titleH + PLOT_H + XAXIS_H

  // left: kernel density per chain
  const peak = Math.max(...kdeYs[p].flat().filter(v => v !== null))
  new Chart(makePanel(0, 600, top, h), {
    type: 'line',
    data: {
      datasets: kdeYs[p].map((ys, c) => ({
        data: kdeXs[p].map((x, i) => ({ x: x, y: ys[i] })),
        borderColor: chainColors[c], borderWidth: 1.4,
        pointRadius: 0, tension: 0.4, cubicInterpolationMode: 'monotone',
        spanGaps: false, order: 3 - c
      }))
    },
    options: {
      responsive: true, maintainAspectRatio: false, animation: false,
      layout: { padding: { left: 10, right: 30, top: 0, bottom: 0 } },
      plugins: { legend: { display: false }, tooltip: { enabled: false }, title: titleOpts(lines) },
      scales: {
        x: xAxis(kdeXRange[p], kdeTicks[p], kdeDecimals[p]),
        y: { display: false, min: -0.05 * peak, max: 1.05 * peak }
      }
    },
    plugins: [bgPlugin]
  })

  // right: trace per chain
  new Chart(makePanel(600, 611, top, h), {
    type: 'line',
    data: {
      datasets: traces[p].map((vals, c) => ({
        data: vals.map((v, i) => ({ x: i * 1999 / (vals.length - 1), y: v })),
        borderColor: chainColors[c] + '73', borderWidth: 1.6,
        pointRadius: 0, tension: 0, order: 3 - c
      }))
    },
    options: {
      responsive: true, maintainAspectRatio: false, animation: false,
      layout: { padding: { left: 0, right: 9, top: 0, bottom: 0 } },
      plugins: { legend: { display: false }, tooltip: { enabled: false }, title: titleOpts(lines) },
      scales: {
        x: xAxis([0, 1999], drawTicks, 0),
        y: {
          type: 'linear', min: traceYRange[p][0], max: traceYRange[p][1],
          afterBuildTicks: s => { s.ticks = traceYTicks[p].map(v => ({ value: v })) },
          afterFit: s => { s.width = 41 },
          ticks: { padding: 5, color: TXT, font: { family: FONT, size: 12.5 },
            callback: v => fmt(v, traceDecimals[p]) },
          grid: { color: '#ffffff', lineWidth: 1.1, drawTicks: false },
          border: { display: false }
        }
      }
    },
    plugins: [bgPlugin]
  })
})
</script>
</body>
</html>
